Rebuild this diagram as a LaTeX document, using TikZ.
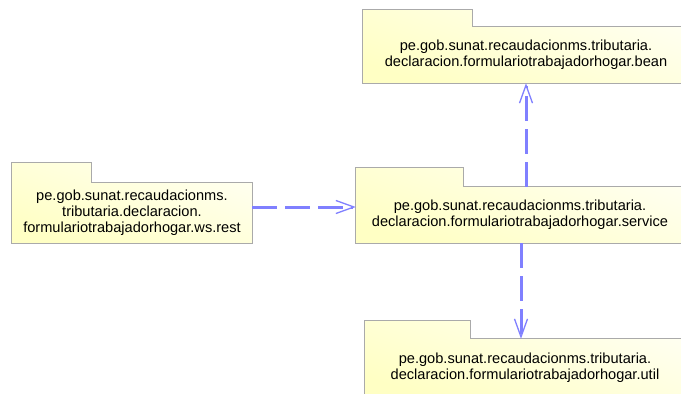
\documentclass[tikz,border=0pt]{standalone}
\usepackage{fontspec}
\setmainfont{Liberation Sans}
\usetikzlibrary{arrows.meta,backgrounds}
\definecolor{pkgline}{RGB}{170,170,170}
\definecolor{pkgfillL}{RGB}{255,255,240}
\definecolor{pkgfillR}{RGB}{255,255,196}
\definecolor{deparrow}{RGB}{128,128,255}
\tikzset{
  pkgbody/.style={inner sep=0pt, align=center, font=\fontsize{14.6}{16.2}\selectfont},
  pkgshape/.style={draw=pkgline, line width=1.1pt, left color=pkgfillL, right color=pkgfillR, shading angle=-20},
  dep/.style={draw=deparrow, line width=3pt, dash pattern=on 25pt off 8pt,
    -{Straight Barb[length=18pt,width=13pt,line width=1.3pt]}},
}
\newcommand{\pkgoutline}[3]{% node, tab width, tab height
  \draw[pkgshape] (#1.south west) -- ([yshift=#3]#1.north west) -- ([xshift=#2,yshift=#3]#1.north west)
    -- ([xshift=#2]#1.north west) -- (#1.north east) -- (#1.south east) -- cycle;}
\begin{document}
\begin{tikzpicture}[x=1pt,y=-1pt]
\useasboundingbox (0,0) rectangle (681,394);
\clip (0,0) rectangle (681,394);
% ws.rest
\node[pkgbody, minimum width=240pt, minimum height=60pt] (rest) at (132,213)
  {pe.gob.sunat.recaudacionms.\\tributaria.declaracion.\\formulariotrabajadorhogar.ws.rest};
% bean
\node[pkgbody, minimum width=326pt, minimum height=56pt] (bean) at (526,55)
  {pe.gob.sunat.recaudacionms.tributaria.\\declaracion.formulariotrabajadorhogar.bean};
% service
\node[pkgbody, minimum width=328pt, minimum height=56pt] (svc) at (520,215)
  {pe.gob.sunat.recaudacionms.tributaria.\\declaracion.formulariotrabajadorhogar.service};
% util
\node[pkgbody, minimum width=320pt, minimum height=58pt] (util) at (525,368)
  {pe.gob.sunat.recaudacionms.tributaria.\\declaracion.formulariotrabajadorhogar.util};
\begin{scope}[on background layer]
\fill[white] (0,0) rectangle (681,394);
\pkgoutline{rest}{80pt}{20pt}
\pkgoutline{bean}{110pt}{17pt}
\pkgoutline{svc}{108pt}{19pt}
\pkgoutline{util}{106pt}{18pt}
\end{scope}
% dependencies
\coordinate (r1) at ([yshift=6pt]rest.east);
\draw[dep] (r1) -- (r1 -| svc.west);
\coordinate (s1) at ([xshift=6pt]svc.north);
\draw[dep] (s1) -- (s1 |- bean.south);
\coordinate (s2) at ([xshift=1pt]svc.south);
\draw[dep] (s2) -- (s2 |- util.north);
\end{tikzpicture}
\end{document}
